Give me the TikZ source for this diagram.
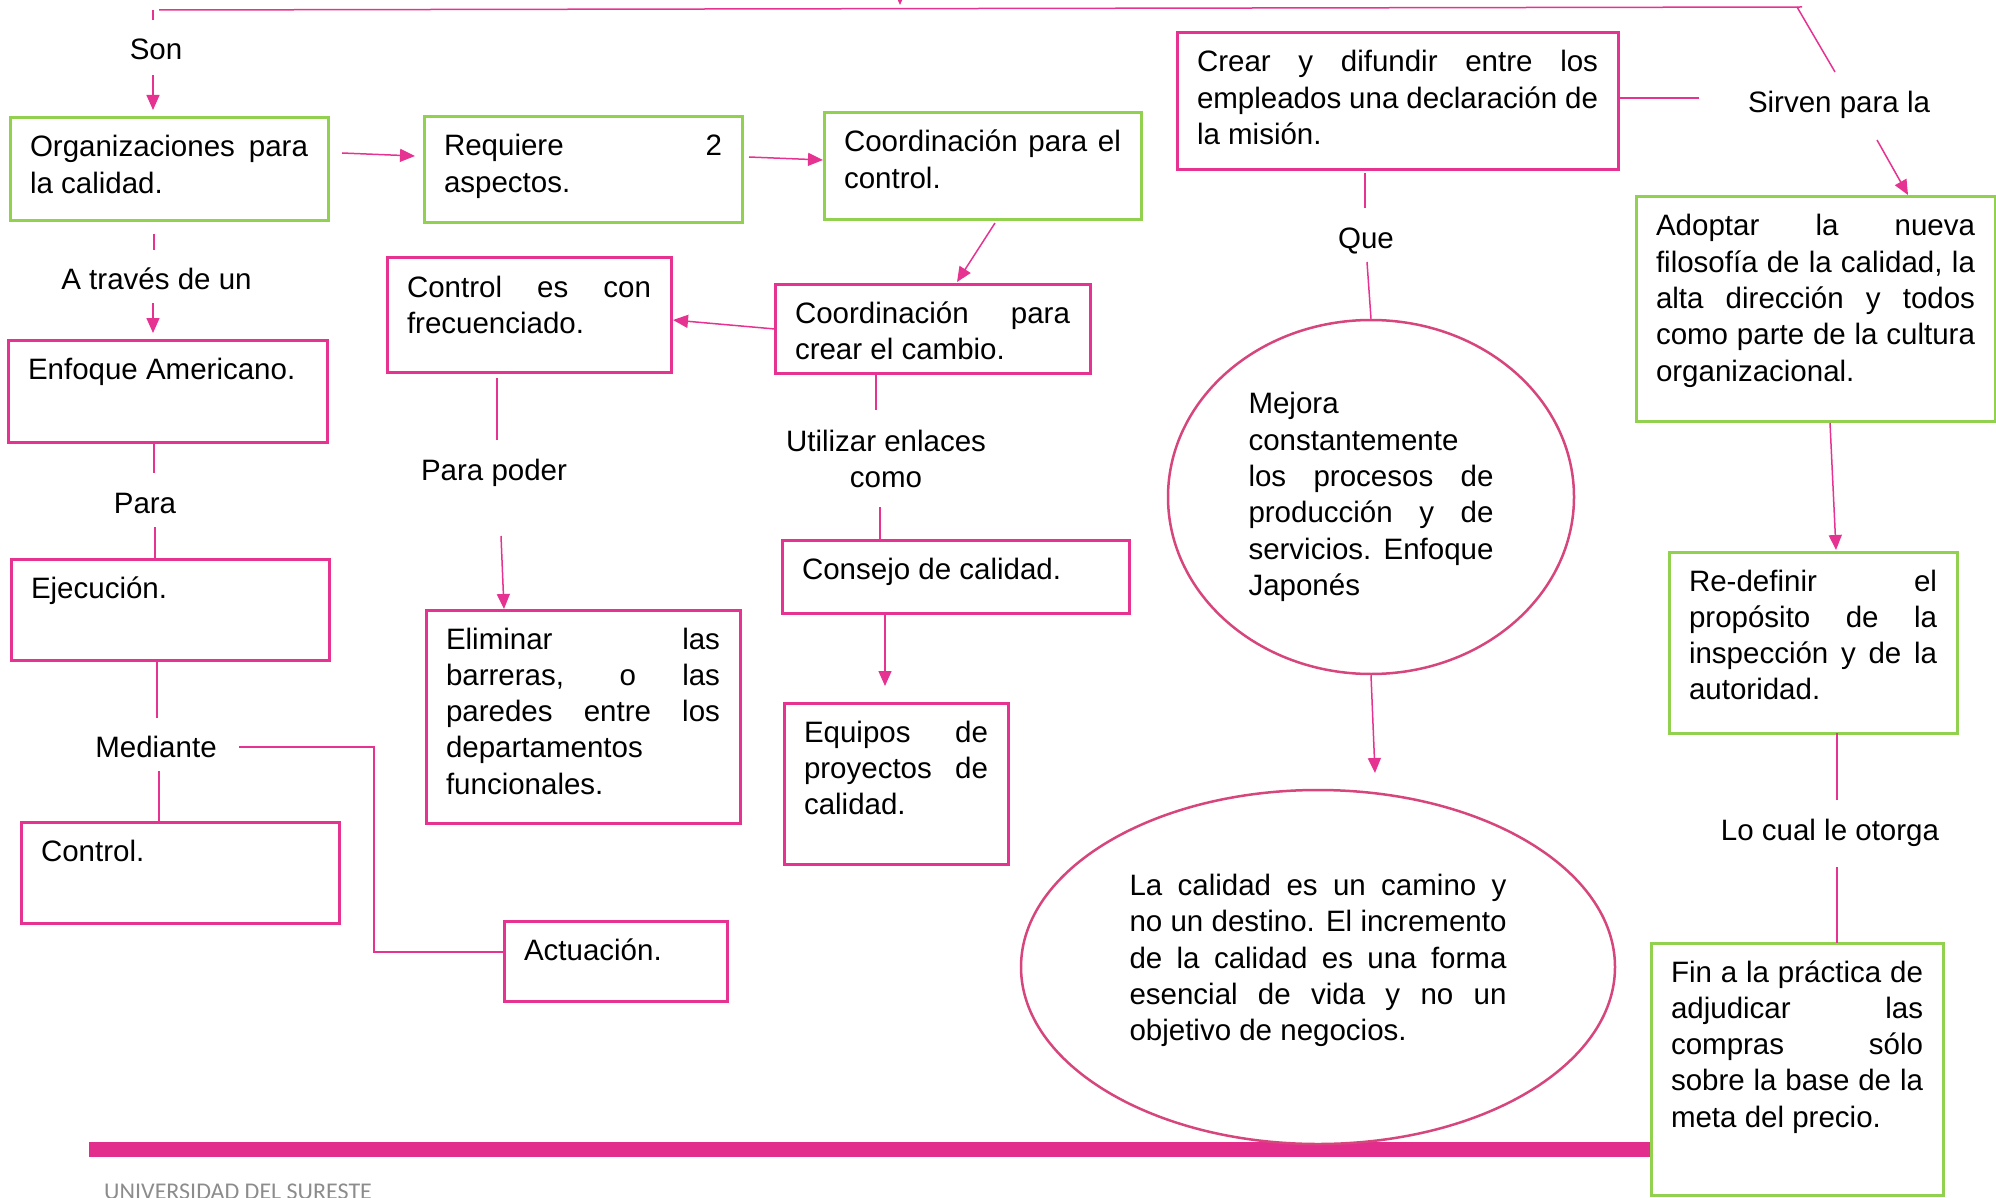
\documentclass[tikz,border=0pt]{standalone}
\usepackage{fontspec}
\setmainfont{Liberation Sans}
\newfontfamily\footfont{Carlito}
\usetikzlibrary{arrows.meta,shapes.geometric}
\hbadness=10000 \hfuzz=30pt \vbadness=10000
\definecolor{pk}{RGB}{230,51,145}
\definecolor{gr}{RGB}{146,208,80}
\definecolor{ep}{RGB}{214,69,124}
\definecolor{barc}{RGB}{226,45,141}
\definecolor{ftc}{RGB}{140,140,140}
\newcommand{\fs}{\fontsize{29.5}{36.3}\selectfont}
\newcommand{\J}[1]{\leavevmode\hbox to \linewidth{#1}}
\newcommand{\bxt}[3]{\parbox[t][#2pt][t]{\dimexpr #1pt-40pt\relax}{\rule{0pt}{39pt}#3}}
\tikzset{
  bx/.style={draw, line width=3pt, fill=white, anchor=north west, inner xsep=20pt, inner ysep=0pt, outer sep=0pt, font=\fs},
  pb/.style={bx, draw=pk},
  gb/.style={bx, draw=gr},
  el/.style={ellipse, draw=ep, line width=2.5pt, fill=white, inner sep=0pt, font=\fs},
  lab/.style={font=\fs, inner sep=0pt, anchor=base},
  ln/.style={draw=pk, line width=1.5pt},
  arr/.style={ln, -{Triangle[length=15pt,width=13pt]}}
}
\begin{document}
\begin{tikzpicture}[x=1pt,y=-1pt]
\useasboundingbox (0,0) rectangle (1996,1198);
\clip (0,0) rectangle (1996,1198);
% bottom bar
\fill[barc] (89,1142) rectangle (1651,1157);
% boxes
\node[gb] (org) at (10,118) {\bxt{318}{103}{\J{Organizaciones para}\\la calidad.}};
\node[gb] (req) at (424,117) {\bxt{318}{106}{\J{Requiere 2}\\aspectos.}};
\node[gb] (cc) at (824,113) {\bxt{317}{107}{\J{Coordinación para el}\\control.}};
\node[pb] (crear) at (1177,33) {\bxt{441}{137}{\J{Crear y difundir entre los}\\\J{empleados una declaración de}\\la misión.}};
\node[gb] (adopt) at (1636,197) {\bxt{359}{224}{\J{Adoptar la nueva}\\\J{filosofía de la calidad, la}\\\J{alta dirección y todos}\\\J{como parte de la cultura}\\organizacional.}};
\node[pb] (ctrlfreq) at (387,258) {\bxt{284}{114}{\J{Control es con}\\frecuenciado.}};
\node[pb] (ccambio) at (775,284) {\bxt{315}{89}{\J{Coordinación para}\\crear el cambio.}};
\node[pb] (enf) at (8,340) {\bxt{319}{102}{Enfoque Americano.}};
\node[pb] (ejec) at (11,559) {\bxt{318}{101}{Ejecución.}};
\node[pb] (ctrl) at (21,822) {\bxt{318}{101}{Control.}};
\node[pb] (elim) at (426,610) {\bxt{314}{213}{\J{Eliminar las}\\\J{barreras, o las}\\\J{paredes entre los}\\departamentos\\funcionales.}};
\node[pb] (consejo) at (782,540) {\bxt{347}{73}{Consejo de calidad.}};
\node[pb] (equipos) at (784,703) {\bxt{224}{161}{\J{Equipos de}\\\J{proyectos de}\\calidad.}};
\node[pb] (act) at (504,921) {\bxt{223}{80}{Actuación.}};
\node[gb] (redef) at (1669,552) {\bxt{288}{181}{\J{Re-definir el}\\\J{propósito de la}\\\J{inspección y de la}\\autoridad.}};
\node[gb] (fin) at (1651,943) {\bxt{292}{252}{\J{Fin a la práctica de}\\\J{adjudicar las}\\\J{compras sólo}\\\J{sobre la base de la}\\meta del precio.}};
% ellipses
\node[el, minimum width=406pt, minimum height=354pt] (e1) at (1371,497) {\parbox{245pt}{Mejora\\constantemente\\\J{los procesos de}\\\J{producción y de}\\\J{servicios. Enfoque}\\Japonés}};
\node[el, minimum width=594pt, minimum height=354pt] (e2) at (1318,967) {\parbox{377pt}{\J{La calidad es un camino y}\\\J{no un destino. El incremento}\\\J{de la calidad es una forma}\\\J{esencial de vida y no un}\\objetivo de negocios.\rule[-19pt]{0pt}{1pt}}};
% labels
\node[lab] (son) at (156,60) {Son};
\node[lab] (atraves) at (156.5,290) {A través de un};
\node[lab] (para) at (145,513) {Para};
\node[lab] (mediante) at (156,757) {Mediante};
\node[lab] (parapoder) at (494,480) {Para poder};
\node[lab] (utilizar) at (886,451.5) {\parbox[t]{300pt}{\centering Utilizar enlaces\\como}};
\node[lab] (que) at (1366,249) {Que};
\node[lab] (sirven) at (1839,113) {Sirven para la};
\node[lab] (locual) at (1830,840) {Lo cual le otorga};
\node[font=\footfont\fontsize{24}{28}\selectfont, text=ftc, anchor=base west, inner sep=0pt] (foot) at (104,1199) {UNIVERSIDAD DEL SURESTE};
% coordinates
\coordinate (tl) at (159,10);
\coordinate (tr) at (1802,7);
\coordinate (sv0) at (1797,7);
\coordinate (sv) at (1835,72);
\coordinate (ta1) at (900,-20);
\coordinate (ta2) at (900,5);
\coordinate (k1a) at (153,10); \coordinate (k1b) at (153,20);
\coordinate (k2a) at (153,75); \coordinate (k2b) at (153,110);
\coordinate (k3a) at (342,153); \coordinate (k3b) at (415,156);
\coordinate (k4a) at (749,157); \coordinate (k4b) at (823,160);
\coordinate (k5a) at (995,223); \coordinate (k5b) at (957,282);
\coordinate (k6a) at (775,329); \coordinate (k6b) at (673,320);
\coordinate (k7b) at (876,410);
\coordinate (k8a) at (880,507);
\coordinate (k9b) at (885,686);
\coordinate (k10b) at (497,440);
\coordinate (k11a) at (501,536); \coordinate (k11b) at (504,609);
\coordinate (k12a) at (154,234); \coordinate (k12b) at (154,250);
\coordinate (k13a) at (153,303); \coordinate (k13b) at (153,333);
\coordinate (k14b) at (154,473);
\coordinate (k15a) at (155,527);
\coordinate (k16b) at (157,718);
\coordinate (k17a) at (159,771);
\coordinate (k18a) at (239,747); \coordinate (k18b) at (374,747); \coordinate (k18c) at (374,952);
\coordinate (k19b) at (1699,98);
\coordinate (k20a) at (1365,173); \coordinate (k20b) at (1365,208);
\coordinate (k21a) at (1367,262);
\coordinate (k22b) at (1375,773);
\coordinate (k23a) at (1877,140); \coordinate (k23b) at (1908,195);
\coordinate (k24a) at (1830,423); \coordinate (k24b) at (1836,550);
\coordinate (k25b) at (1837,800);
\coordinate (k26a) at (1837,867);
% connectors
\draw[ln] (tl) -- (tr);
\draw[ln] (sv0) -- (sv);
\draw[arr] (ta1) -- (ta2);
\draw[ln] (k1a) -- (k1b);
\draw[arr] (k2a) -- (k2b);
\draw[arr] (k3a) -- (k3b);
\draw[arr] (k4a) -- (k4b);
\draw[arr] (k5a) -- (k5b);
\draw[arr] (k6a) -- (k6b);
\draw[ln] (ccambio.south -| k7b) -- (k7b);
\draw[ln] (k8a) -- (consejo.north -| k8a);
\draw[arr] (consejo.south -| k9b) -- (k9b);
\draw[ln] (ctrlfreq.south -| k10b) ++(0,6) -- (k10b);
\draw[arr] (k11a) -- (k11b);
\draw[ln] (k12a) -- (k12b);
\draw[arr] (k13a) -- (k13b);
\draw[ln] (enf.south -| k14b) -- (k14b);
\draw[ln] (k15a) -- (ejec.north -| k15a);
\draw[ln] (ejec.south -| k16b) -- (k16b);
\draw[ln] (k17a) -- (ctrl.north -| k17a);
\draw[ln] (k18a) -- (k18b) -- (k18c) -- (act.west |- k18c);
\draw[ln] (crear.east |- k19b) -- (k19b);
\draw[ln] (k20a) -- (k20b);
\draw[ln] (k21a) -- (e1.north);
\draw[arr] (e1.south) -- (k22b);
\draw[arr] (k23a) -- (k23b);
\draw[arr] (k24a) -- (k24b);
\draw[ln] (redef.south -| k25b) -- (k25b);
\draw[ln] (k26a) -- (fin.north -| k26a);
\end{tikzpicture}
\end{document}
